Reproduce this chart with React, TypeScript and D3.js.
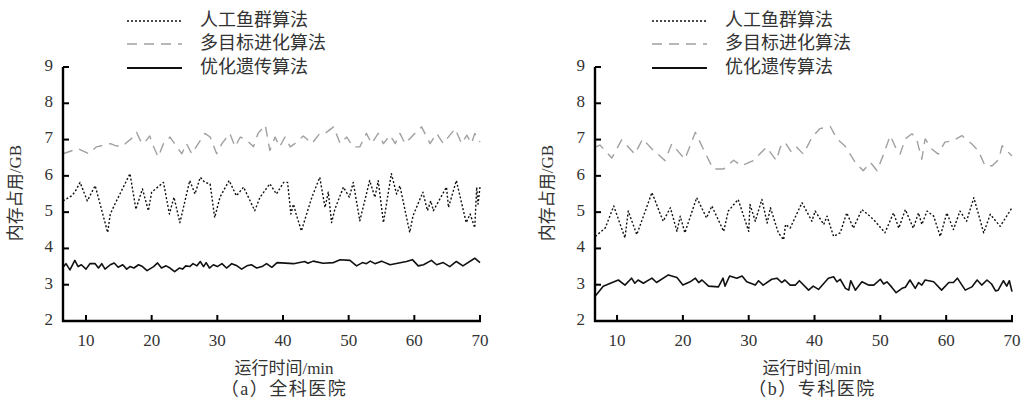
import { useEffect } from 'react';
import * as d3 from 'd3';

// legend / series names
const seriesNames = ['人工鱼群算法', '多目标进化算法', '优化遗传算法'];
const panelTitles = ['（a）全科医院', '（b）专科医院'];
const xTicks = [10, 20, 30, 40, 50, 60, 70];
const yTicks = [2, 3, 4, 5, 6, 7, 8, 9];

// (a) 全科医院 — [time/min, memory/GB]
const aFish = [
  [6.5, 5.31], [7.8, 5.45], [8.3, 5.55], [9.1, 5.82], [10.2, 5.31], [11.4, 5.73], [13.3, 4.44], [13.7, 4.95],
  [14.4, 5.22], [16.7, 6.06], [17.6, 5.08], [18.6, 5.64], [19.5, 5.04], [20.0, 5.55], [21.8, 5.82], [22.7, 4.95],
  [23.4, 5.41], [24.3, 4.71], [25.8, 5.87], [26.6, 5.5], [27.4, 5.96], [28.1, 5.82], [28.9, 5.78], [29.6, 4.85],
  [30.4, 5.41], [31.8, 5.87], [32.9, 5.45], [34.0, 5.69], [35.7, 5.04], [36.5, 5.41], [38.0, 5.78], [39.0, 5.5],
  [40.1, 5.82], [40.7, 5.82], [41.2, 4.95], [41.6, 5.22], [42.0, 4.95], [42.8, 4.48], [43.6, 4.95], [44.4, 5.41],
  [45.6, 5.96], [46.4, 5.13], [46.9, 5.55], [47.4, 4.71], [47.9, 5.08], [49.2, 5.69], [50.1, 5.41], [50.7, 5.82],
  [51.7, 4.76], [53.2, 5.87], [54.0, 5.41], [54.5, 5.87], [55.3, 4.71], [56.5, 6.06], [57.3, 5.5], [57.8, 5.73],
  [59.3, 4.44], [59.8, 4.9], [61.3, 5.55], [62.0, 5.04], [62.5, 5.31], [62.9, 5.04], [64.9, 5.69], [65.2, 5.13],
  [66.4, 5.87], [67.9, 4.71], [68.5, 4.95], [69.2, 4.57], [69.5, 5.69], [69.7, 5.22], [70.0, 5.69],
];
const aMulti = [
  [6.5, 6.61], [8.8, 6.75], [10.4, 6.61], [11.6, 6.8], [13.7, 6.89], [14.4, 6.84], [15.4, 6.8], [17.2, 7.07],
  [17.7, 7.2], [18.5, 6.89], [19.2, 6.98], [19.7, 7.1], [20.3, 6.8], [21.0, 6.52], [21.8, 6.89], [22.8, 7.07],
  [23.8, 6.8], [24.6, 6.61], [25.3, 6.89], [26.1, 6.61], [27.1, 6.89], [28.1, 7.17], [28.9, 7.07], [29.9, 6.61],
  [30.7, 6.89], [31.9, 7.17], [32.7, 6.8], [33.5, 7.07], [34.5, 6.98], [35.5, 6.8], [36.2, 7.17], [37.3, 7.4],
  [38.0, 6.7], [38.8, 7.07], [39.5, 6.8], [40.3, 7.07], [41.1, 6.8], [41.8, 6.89], [43.1, 7.1], [44.4, 6.89],
  [45.6, 7.17], [46.4, 7.17], [47.7, 7.35], [48.7, 6.89], [49.7, 7.07], [50.7, 6.8], [51.7, 6.8], [52.7, 7.17],
  [53.5, 6.89], [54.5, 7.17], [55.3, 6.89], [56.3, 7.12], [57.1, 6.89], [57.8, 7.17], [58.6, 6.89], [59.8, 7.12],
  [61.1, 7.35], [62.4, 6.89], [63.4, 7.17], [64.4, 6.89], [66.2, 7.3], [67.2, 6.89], [68.0, 7.12], [68.7, 6.89],
  [69.2, 7.17], [70.0, 6.93],
];
const aGenetic = [
  [6.5, 3.48], [6.95, 3.58], [7.56, 3.41], [8.3, 3.67], [8.8, 3.5], [9.3, 3.55], [10.0, 3.43], [10.6, 3.58],
  [11.4, 3.58], [11.9, 3.46], [12.4, 3.58], [12.9, 3.43], [13.7, 3.55], [14.3, 3.6], [14.9, 3.48], [15.6, 3.55],
  [16.2, 3.43], [16.7, 3.5], [17.3, 3.46], [18.0, 3.55], [18.6, 3.5], [19.3, 3.39], [20.3, 3.5], [20.9, 3.6],
  [21.5, 3.46], [22.2, 3.52], [22.8, 3.46], [23.5, 3.36], [24.2, 3.46], [24.7, 3.43], [25.2, 3.52], [25.8, 3.5],
  [26.3, 3.58], [26.9, 3.52], [27.4, 3.64], [27.9, 3.5], [28.3, 3.61], [28.8, 3.46], [29.4, 3.55], [30.0, 3.5],
  [30.7, 3.58], [31.4, 3.46], [32.2, 3.58], [33.0, 3.52], [33.7, 3.43], [34.5, 3.52], [35.2, 3.55], [36.0, 3.46],
  [36.8, 3.5], [37.5, 3.58], [38.3, 3.48], [39.1, 3.61], [41.6, 3.58], [43.3, 3.64], [43.8, 3.59], [44.6, 3.65],
  [46.1, 3.59], [47.7, 3.61], [48.7, 3.69], [50.2, 3.67], [51.2, 3.52], [52.1, 3.61], [52.7, 3.58], [53.3, 3.65],
  [54.0, 3.58], [55.0, 3.65], [56.3, 3.55], [58.8, 3.64], [59.7, 3.69], [60.6, 3.52], [61.4, 3.55], [62.6, 3.67],
  [63.4, 3.55], [64.4, 3.61], [65.4, 3.5], [66.4, 3.64], [67.4, 3.52], [69.2, 3.73], [70.0, 3.61],
];

// (b) 专科医院
const bFish = [
  [6.7, 4.33], [8.2, 4.56], [9.5, 5.17], [11.2, 4.29], [11.7, 5.03], [13.0, 4.38], [15.3, 5.54], [17.0, 4.75],
  [18.1, 5.12], [19.1, 4.47], [19.6, 4.89], [20.3, 4.43], [22.1, 5.4], [23.6, 4.84], [24.4, 5.17], [26.2, 4.47],
  [26.9, 5.03], [28.4, 5.35], [30.0, 4.47], [30.2, 5.21], [31.0, 4.75], [32.0, 5.35], [32.8, 4.7], [33.3, 5.12],
  [34.5, 4.43], [35.3, 4.24], [35.6, 4.66], [36.3, 4.56], [38.1, 5.26], [39.6, 4.75], [40.1, 5.03], [41.4, 4.66],
  [41.9, 4.89], [42.9, 4.33], [43.9, 4.43], [44.9, 4.98], [45.9, 4.56], [47.2, 5.07], [48.4, 4.89], [49.2, 4.75],
  [50.7, 4.43], [52.0, 4.98], [52.8, 4.56], [53.8, 5.07], [55.0, 4.56], [55.8, 4.98], [56.3, 4.66], [57.1, 5.03],
  [58.1, 4.89], [59.1, 4.33], [60.1, 4.98], [61.1, 4.52], [62.1, 5.03], [63.1, 4.75], [64.2, 5.4], [65.7, 4.43],
  [66.7, 4.94], [68.2, 4.61], [70.0, 5.12],
];
const bMulti = [
  [6.7, 6.79], [7.4, 6.85], [9.2, 6.49], [10.7, 6.99], [12.7, 6.6], [13.9, 7.02], [15.3, 6.74], [17.3, 6.42],
  [18.3, 6.88], [20.3, 6.46], [21.9, 7.2], [23.1, 6.74], [24.6, 6.19], [26.2, 6.19], [27.7, 6.43], [28.9, 6.28],
  [30.7, 6.42], [32.7, 6.79], [34.2, 6.42], [34.8, 6.79], [35.5, 6.93], [36.5, 6.65], [37.3, 6.79], [38.3, 6.6],
  [39.6, 7.06], [40.8, 7.3], [42.4, 7.36], [43.4, 7.02], [44.6, 6.83], [46.2, 6.37], [47.4, 6.14], [48.5, 6.37],
  [49.5, 6.14], [50.5, 6.6], [51.5, 7.11], [52.3, 6.79], [53.0, 6.6], [53.8, 7.02], [54.8, 7.16], [55.5, 7.02],
  [56.3, 6.46], [56.8, 7.02], [57.8, 6.74], [58.8, 6.6], [59.8, 6.93], [61.1, 6.97], [62.4, 7.11], [63.9, 6.88],
  [64.9, 6.69], [65.9, 6.28], [67.0, 6.28], [68.0, 6.46], [68.5, 6.83], [69.7, 6.6], [70.0, 6.55],
];
const bGenetic = [
  [6.7, 2.69], [7.9, 2.96], [10.2, 3.13], [11.2, 2.99], [12.2, 3.18], [12.7, 3.04], [13.2, 3.13], [14.0, 3.04],
  [15.3, 3.18], [16.0, 3.06], [17.8, 3.27], [19.1, 3.2], [20.0, 2.99], [21.1, 3.08], [21.9, 3.18], [22.4, 3.06],
  [22.9, 3.13], [23.9, 2.96], [25.4, 2.94], [26.1, 3.18], [26.4, 2.96], [27.1, 3.24], [28.2, 3.18], [29.0, 3.24],
  [29.7, 3.08], [31.0, 2.99], [31.5, 3.11], [32.2, 2.99], [33.5, 3.15], [34.3, 3.18], [35.0, 3.06], [35.5, 3.13],
  [36.3, 2.99], [37.1, 2.99], [37.7, 3.11], [39.1, 2.85], [39.8, 2.96], [40.6, 2.87], [42.1, 3.18], [42.9, 3.22],
  [43.4, 3.08], [43.9, 3.15], [44.7, 2.9], [45.2, 2.85], [45.5, 3.11], [46.2, 2.85], [47.2, 3.08], [48.2, 2.99],
  [49.0, 2.99], [50.0, 3.15], [50.5, 3.02], [51.0, 3.08], [51.7, 2.94], [52.4, 2.78], [53.3, 2.9], [53.8, 2.93],
  [54.5, 3.13], [55.3, 2.9], [55.8, 3.06], [56.3, 2.99], [56.8, 3.13], [58.1, 3.08], [59.3, 2.85], [60.4, 3.06],
  [61.1, 3.06], [61.7, 3.18], [62.9, 2.85], [63.9, 2.94], [64.7, 3.13], [65.4, 2.99], [66.2, 3.13], [66.9, 3.02],
  [67.5, 2.83], [67.9, 2.85], [68.7, 3.11], [69.2, 2.96], [69.6, 3.11], [70.0, 2.81],
];

const styles = [
  { color: '#111', dash: '2,2', width: 1.4 },
  { color: '#a0a0a0', dash: '10,7', width: 1.4 },
  { color: '#111', dash: null, width: 1.6 },
];

const serif = '"Liberation Serif", "Noto Sans CJK SC", serif';

type Panel = {
  left: number; right: number; xMin: number;
  series: number[][][]; legendX: number; titleX: number; title: string;
};

const panels: Panel[] = [
  { left: 63, right: 480, xMin: 6.5, series: [aFish, aMulti, aGenetic], legendX: 127, titleX: 284, title: panelTitles[0] },
  { left: 595, right: 1012, xMin: 6.65, series: [bFish, bMulti, bGenetic], legendX: 652, titleX: 812, title: panelTitles[1] },
];

const top = 67;
const bottom = 321;

function ChartPanel({ p }: { p: Panel }) {
  const x = d3.scaleLinear().domain([p.xMin, 70]).range([p.left, p.right]);
  const y = d3.scaleLinear().domain([2, 9]).range([bottom, top]);
  const line = d3.line<number[]>().x((d) => x(d[0])).y((d) => y(d[1]));
  const legendRows = [21, 44, 68];

  return (
    <g>
      {/* legend */}
      {seriesNames.map((name, i) => (
        <g key={name}>
          <line x1={p.legendX} x2={p.legendX + 55} y1={legendRows[i]} y2={legendRows[i]}
            stroke={styles[i].color} strokeWidth={i === 2 ? 2 : 1.6}
            strokeDasharray={styles[i].dash ?? undefined} />
          <text x={p.legendX + 73} y={legendRows[i] + 1} dominantBaseline="middle"
            fontSize={18} fill="#333" fontFamily={serif}>{name}</text>
        </g>
      ))}

      {/* series */}
      {p.series.map((data, i) => (
        <path key={i} d={line(data) ?? ''} fill="none" stroke={styles[i].color}
          strokeWidth={styles[i].width} strokeDasharray={styles[i].dash ?? undefined}
          strokeLinejoin="round" />
      ))}

      {/* axes */}
      <line x1={p.left} x2={p.left} y1={top} y2={bottom + 1} stroke="#000" strokeWidth={2.4} />
      <line x1={p.left - 1} x2={p.right + 1} y1={bottom} y2={bottom} stroke="#000" strokeWidth={2.4} />
      {yTicks.map((t) => (
        <g key={t}>
          {t > 2 && <line x1={p.left} x2={p.left + 6} y1={y(t)} y2={y(t)} stroke="#000" strokeWidth={2} />}
          <text x={p.left - 10} y={y(t)} textAnchor="end" dominantBaseline="middle"
            fontSize={17} fill="#333" fontFamily={serif}>{t}</text>
        </g>
      ))}
      {xTicks.map((t) => (
        <g key={t}>
          <line x1={x(t)} x2={x(t)} y1={bottom} y2={bottom - 6} stroke="#000" strokeWidth={2} />
          <text x={x(t)} y={342} textAnchor="middle" dominantBaseline="middle"
            fontSize={17} fill="#333" fontFamily={serif}>{t}</text>
        </g>
      ))}

      <text transform={`translate(${p.left - 46},${193}) rotate(-90)`} textAnchor="middle"
        dominantBaseline="middle" fontSize={17} fill="#333" fontFamily={serif}>内存占用/GB</text>
      <text x={p.titleX} y={370} textAnchor="middle" dominantBaseline="middle"
        fontSize={17} fill="#333" fontFamily={serif}>运行时间/min</text>
      <text x={p.titleX} y={391} textAnchor="middle" dominantBaseline="middle"
        fontSize={18} letterSpacing={1.5} fill="#333" fontFamily={serif}>{p.title}</text>
    </g>
  );
}

export default function App() {
  useEffect(() => {
    document.body.style.margin = '0';
  }, []);

  return (
    <svg width={1022} height={401} viewBox="0 0 1022 401" style={{ display: 'block', background: '#fff' }}>
      {panels.map((p, i) => (
        <ChartPanel key={i} p={p} />
      ))}
    </svg>
  );
}
